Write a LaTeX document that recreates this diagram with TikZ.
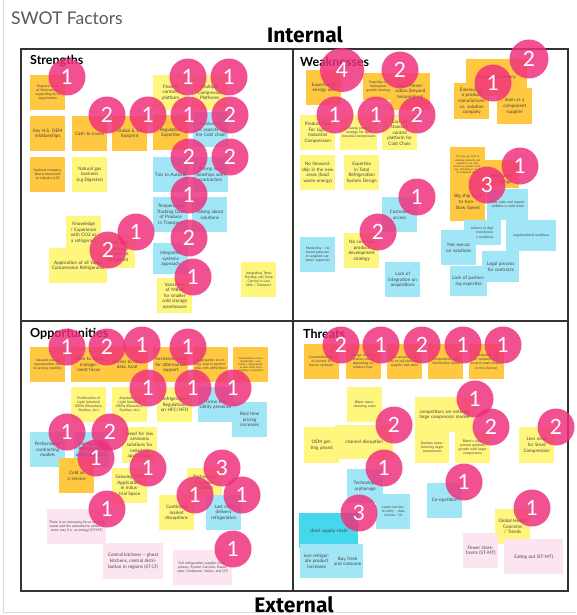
\documentclass[tikz,border=0pt]{standalone}
\usepackage{fontspec}
\setmainfont{Lato}
\newfontfamily\handfont{Fira Sans}
\usepackage{xcolor}
\usepackage{tikz}
\usetikzlibrary{positioning}
\definecolor{noteorange}{HTML}{FFC840}
\definecolor{noteyellow}{HTML}{FFF67D}
\definecolor{noteblue}{HTML}{A0E6F7}
\definecolor{noteteal}{HTML}{45D7EC}
\definecolor{notepink}{HTML}{FCE5F1}
\definecolor{votepink}{HTML}{F0307C}
\definecolor{notetext}{HTML}{444444}
\tikzset{
     sticky/.style={
           rectangle,
           anchor=north west,
           text width=32pt,
           minimum height=35pt,
           inner sep=1.5pt,
           align=center,
           text=notetext,
           font=\fontsize{3.4}{4.1}\selectfont,
           },
     onote/.style={sticky, fill=noteorange},
     ynote/.style={sticky, fill=noteyellow},
     bnote/.style={sticky, fill=noteblue},
     tnote/.style={sticky, fill=noteteal},
     pnote/.style={sticky, fill=notepink},
     bigtext/.style={font=\fontsize{4.6}{5.6}\selectfont},
     vote/.style={
           circle,
           fill=votepink,
           fill opacity=0.84,
           text opacity=1,
           text=white,
           minimum size=37pt,
           inner sep=0pt,
           font=\fontsize{21}{21}\selectfont,
           },
     header/.style={
           anchor=west,
           inner sep=0pt,
           font=\fontsize{12.5}{13}\selectfont\bfseries,
           },
}

\begin{document}
\begin{tikzpicture}[x=1pt, y=-1pt]
	\useasboundingbox (0,0) rectangle (576,615);
	\fill[white] (0,0) rectangle (576,615);
	\draw[black!15, thick] (3,0) -- (3,612) -- (576,612);

	\node[anchor=west, inner sep=0pt, text=black!65, font=\fontsize{17.5}{17.5}\selectfont] (title) at (11,18) {SWOT Factors};
	\node[inner sep=0pt, font=\handfont\fontsize{21}{21}\selectfont\bfseries] (internal) at (305,35) {Internal};
	\node[inner sep=0pt, font=\handfont\fontsize{21}{21}\selectfont\bfseries] (external) at (294,605) {External};

	\draw[black!80, line width=1.6pt] (21,49) rectangle (568,591);
	\draw[black!80, line width=1.6pt] (293,49) -- (293,591);
	\draw[black!80, line width=1.6pt] (21,321) -- (568,321);

	\node[header] (strengths) at (30,61) {Strengths};
	\node[header] (weaknesses) at (300,62) {Weaknesses};
	\node[header] (opportunities) at (30,334) {Opportunities};
	\node[header] (threats) at (303,334) {Threats};

	% strengths
	\node[onote] (s1) at (30,75) {Regional team of Emerson for supporting local organisation};
	\node[onote, bigtext] (s2) at (30,116) {Key N.S. OEM relationships};
	\node[onote, bigtext] (s3) at (72,116) {Cash to invest};
	\node[onote, bigtext] (s4) at (112,116) {Global \& US footprint};
	\node[onote] (s5) at (30,157) {National company, Board connected to industry (US)};
	\node[ynote, bigtext] (s6) at (72,157) {Natural gas business (e.g.Digester)};
	\node[ynote, bigtext] (s7) at (153,75) {Flexible controls platform};
	\node[ynote, bigtext] (s8) at (192,75) {Multiple Compressor Platforms};
	\node[onote, bigtext] (s9) at (153,115) {Regulation Expertise};
	\node[bnote, bigtext] (s10) at (193,112) {Involved in all aspects of the Cold chain};
	\node[bnote, bigtext] (s11) at (153,157) {Ties to AutoSol};
	\node[bnote, bigtext] (s12) at (193,157) {Strong relationships with contractors};
	\node[bnote, bigtext] (s13) at (153,197) {Temperature Tracking Data of Produce in Transport};
	\node[bnote, bigtext] (s14) at (192,197) {Talking about solutions};
	\node[bnote, bigtext, minimum height=31pt] (s15) at (153,243) {Integrated systems approach};
	\node[ynote, bigtext] (s16) at (157,278) {Variations of MBUs for smaller cold storage warehouses};
	\node[ynote] (s17) at (241,262) {Integrating Temp Tracking and Temp Control in Last Mile / Transport};
	\node[ynote, bigtext, minimum height=33pt] (s18) at (66,216) {Knowledge / Experience with CO2 as a refrigerant};
	\node[ynote, bigtext, text width=36pt, minimum height=33pt] (s19) at (96,235) {Knowledge / Experience with NH3 as a refrigerant};
	\node[ynote, bigtext, text width=55pt] (s20) at (49,248) {Application of all Vapor Compression Refrigerants};

	\node[vote] (v1) at (67,77) {1};
	\node[vote] (v2) at (107,115) {2};
	\node[vote] (v3) at (148,115) {1};
	\node[vote] (v4) at (188,77) {1};
	\node[vote] (v5) at (229,77) {1};
	\node[vote] (v6) at (189,115) {1};
	\node[vote] (v7) at (230,115) {2};
	\node[vote] (v8) at (189,157) {2};
	\node[vote] (v9) at (230,157) {2};
	\node[vote] (v10) at (189,195) {1};
	\node[vote] (v11) at (189,238) {2};
	\node[vote] (v12) at (193,277) {1};
	\node[vote] (v13) at (136,232) {1};
	\node[vote] (v14) at (108,250) {2};

	% weaknesses
	\node[onote, bigtext] (w1) at (306,70) {Expertise in energy use};
	\node[onote, text width=27pt, minimum height=27pt] (w2) at (363,73) {Expertise in hydroponic growth farming};
	\node[onote, bigtext, text width=37pt, minimum height=37pt] (w3) at (390,73) {Food Preservation (beyond temperature)};
	\node[ynote, bigtext] (w4) at (300,115) {Product Gap For Light Industrial Compression};
	\node[ynote, text width=34pt] (w5) at (340,115) {Missing product strategy for light industrial compression};
	\node[ynote, bigtext] (w6) at (382,115) {Lack of standard control platform for Cold Chain};
	\node[ynote, bigtext] (w7) at (300,155) {No Stewardship in the new areas (food waste energy)};
	\node[ynote, bigtext] (w8) at (344,155) {Expertise in Total Refrigeration System Design};
	\node[onote, bigtext, text width=58pt, minimum height=37pt] (w9) at (466,59) {Customer intimacy\\[12pt]};
	\node[onote, bigtext, minimum height=36pt] (w10) at (454,83) {Emerson as a product manufacturer vs. solution company};
	\node[onote, bigtext, minimum height=36pt] (w11) at (497,88) {Seen as a component supplier};
	\node[onote, font=\fontsize{2.6}{3.2}\selectfont, minimum height=36pt] (w12) at (450,147) {The way we tend to develop products and solutions is in silos, driven by product strategy. Resulting in a lack of integrated offers};
	\node[onote, bigtext, minimum height=28pt] (w24) at (484,160) {\\[8pt]Resistance to change};
	\node[onote, bigtext, minimum height=38pt] (w13) at (450,183) {Big ship hard to turn - Slow Speed};
	\node[bnote, text width=38pt, minimum height=31pt] (w14) at (487,189) {Clear roles and responsibilities in cold chain};
	\node[bnote, text width=34pt, minimum height=25pt] (w15) at (464,220) {Infancy in digital transformation readiness};
	\node[bnote, text width=47pt, minimum height=31pt] (w16) at (506,220) {organizational readiness};
	\node[bnote, bigtext] (w17) at (441,230) {Not execut on solutions};
	\node[bnote, bigtext, text width=34pt, minimum height=31pt] (w18) at (482,251) {Legal process for contracts};
	\node[bnote, bigtext, text width=34pt, minimum height=30pt] (w19) at (450,266) {Lack of partnering expertise};
	\node[bnote, bigtext] (w20) at (382,197) {Customer access};
	\node[bnote] (w21) at (300,237) {Marketing -- no brand presence in targeted customer segments};
	\node[ynote, bigtext] (w22) at (344,233) {No common product development strategy};
	\node[bnote, bigtext] (w23) at (385,262) {Lack of integration on acquisitions};

	\node[vote, minimum size=44pt] (v15) at (342,70) {4};
	\node[vote] (v16) at (400,70) {2};
	\node[vote] (v17) at (335,115) {1};
	\node[vote] (v18) at (376,115) {1};
	\node[vote] (v19) at (417,115) {2};
	\node[vote, minimum size=39pt] (v20) at (529,59) {2};
	\node[vote] (v21) at (493,83) {1};
	\node[vote] (v22) at (520,166) {1};
	\node[vote] (v23) at (487,185) {3};
	\node[vote] (v24) at (417,197) {1};
	\node[vote] (v25) at (378,232) {2};

	% opportunities
	\node[onote] (o1) at (30,347) {Valuable energy opportunities due to pricing volatility};
	\node[onote, bigtext] (o2) at (71,347) {Move to Asset management focus};
	\node[onote, bigtext, text width=39pt] (o3) at (106,347) {Access to new data, local};
	\node[onote, bigtext] (o4) at (153,347) {Increased need for aftermarket support};
	\node[onote] (o5) at (193,347) {Aggregation of energy load in partnership with AMS/Store};
	\node[onote, font=\fontsize{2.6}{3.2}\selectfont] (o6) at (233,347) {Coordination of new distribution / customers. Opportunity to take share from struggling competitors};
	\node[ynote] (o7) at (71,387) {Proliferation of Light Industrial OEMs (Elsewhere, Danfoss, etc.)};
	\node[ynote] (o8) at (112,387) {Acquisition of Light Industrial OEMs (Elsewhere, Danfoss, etc.)};
	\node[ynote, bigtext] (o9) at (157,387) {Refrigeration Regulations on HFC/HFO};
	\node[bnote, bigtext] (o10) at (198,387) {Grow the utility presence};
	\node[bnote, bigtext] (o11) at (232,402) {Real time pricing increases};
	\node[bnote, bigtext] (o12) at (30,432) {Performance contracting models};
	\node[bnote, bigtext] (o13) at (74,432) {Emerson as a Refrigeration utility company};
	\node[ynote, bigtext, minimum height=36pt] (o14) at (122,427) {Need for low ammonia solutions for industrial applications};
	\node[onote, bigtext] (o15) at (59,458) {Cold as a service};
	\node[ynote, bigtext] (o16) at (112,468) {Growing CO2 Applications in Industrial Space};
	\node[ynote, bigtext, minimum height=29pt] (o17) at (187,468) {Partners to Customer -- Direct};
	\node[ynote, bigtext] (o18) at (159,495) {Continued market disruptions};
	\node[bnote, bigtext] (o19) at (206,495) {Last mile delivery refrigeration};
	\node[pnote, text width=56pt] (o20) at (47,509) {There is an increasing focus on food waste and the potential to utilise in some way (i.e. as energy) (ST-MT)};
	\node[pnote, bigtext, text width=57pt, minimum height=36pt] (o21) at (103,543) {Central kitchens -- ghost kitchens, central distribution in regions (ST-LT)};
	\node[pnote, text width=56pt] (o22) at (173,550) {Full refrigeration supplier (Compressor, System Controls, Evaporator, Condenser, Valves, etc) (ST)};

	\node[vote] (v26) at (67,347) {1};
	\node[vote] (v27) at (107,347) {2};
	\node[vote] (v28) at (142,345) {1};
	\node[vote] (v29) at (188,347) {1};
	\node[vote] (v30) at (148,388) {1};
	\node[vote] (v31) at (193,388) {1};
	\node[vote] (v32) at (233,388) {1};
	\node[vote] (v33) at (67,432) {1};
	\node[vote] (v34) at (110,432) {2};
	\node[vote] (v35) at (96,458) {1};
	\node[vote] (v36) at (148,468) {1};
	\node[vote] (v37) at (222,468) {3};
	\node[vote] (v38) at (195,495) {1};
	\node[vote] (v39) at (242,495) {1};
	\node[vote] (v40) at (107,509) {1};
	\node[vote] (v41) at (233,549) {1};

	% threats
	\node[onote] (t1) at (304,344) {Commoditization of current industry verticals?};
	\node[onote, right=6pt of t1.north east, anchor=north west] (t2) {Change in refrigeration needs depending on product type};
	\node[onote, right=6pt of t2.north east, anchor=north west] (t3) {Data security -- ability to sell between supplier and store};
	\node[onote, right=6pt of t3.north east, anchor=north west] (t4) {Competition with distribution focus};
	\node[onote, right=5pt of t4.north east, anchor=north west] (t5) {Distributors will be replaced with several small players in the channel};
	\node[ynote] (t6) at (347,387) {Bitzer manufacturing racks};
	\node[ynote, bigtext, text width=56pt] (t7) at (415,397) {competitors are entering large compressor market};
	\node[ynote, text width=31pt, minimum height=31pt] (t10) at (415,432) {Danfoss manufacturing larger compressors};
	\node[ynote, minimum height=31pt] (t11) at (455,432) {Bitzer's compressor portfolio growth with larger compressors};
	\node[ynote, bigtext, minimum height=36pt] (t8) at (304,427) {OEM getting pissed};
	\node[ynote, bigtext, text width=55pt, minimum height=34pt] (t9) at (335,425) {channel disruption};
	\node[ynote, bigtext, minimum height=36pt] (t12) at (519,427) {Less need for Small Compression};
	\node[bnote, bigtext, text width=33pt, minimum height=34pt] (t13) at (347,469) {Technology orphanage};
	\node[bnote, text width=31pt] (t14) at (376,494) {Lower barriers to entry -- data science / AI};
	\node[bnote, bigtext] (t15) at (427,483) {Co-opetition};
	\node[ynote, bigtext] (t16) at (495,509) {Global Health Concerns / Trends};
	\node[tnote, bigtext, text width=56pt] (t17) at (299,513) {short supply chain};
	\node[bnote, bigtext, text width=30pt, minimum height=34pt] (t18) at (300,544) {non refrigerate product increases};
	\node[bnote, bigtext, text width=28pt, minimum height=34pt] (t19) at (332,544) {Buy fresh and consume};
	\node[pnote, bigtext] (t20) at (463,533) {Fewer storefronts (ST-MT)};
	\node[pnote, bigtext, text width=56pt] (t21) at (504,539) {Eating out (ST-MT)};

	\node[vote] (v42) at (341,345) {2};
	\node[vote] (v43) at (381,345) {1};
	\node[vote] (v44) at (422,345) {2};
	\node[vote] (v45) at (463,345) {1};
	\node[vote] (v46) at (503,345) {1};
	\node[vote] (v47) at (475,399) {1};
	\node[vote] (v48) at (394,425) {2};
	\node[vote] (v49) at (491,427) {2};
	\node[vote] (v50) at (556,427) {2};
	\node[vote] (v51) at (384,468) {1};
	\node[vote] (v52) at (359,513) {3};
	\node[vote] (v53) at (464,482) {1};
	\node[vote] (v54) at (532,508) {1};

\end{tikzpicture}
\end{document}
